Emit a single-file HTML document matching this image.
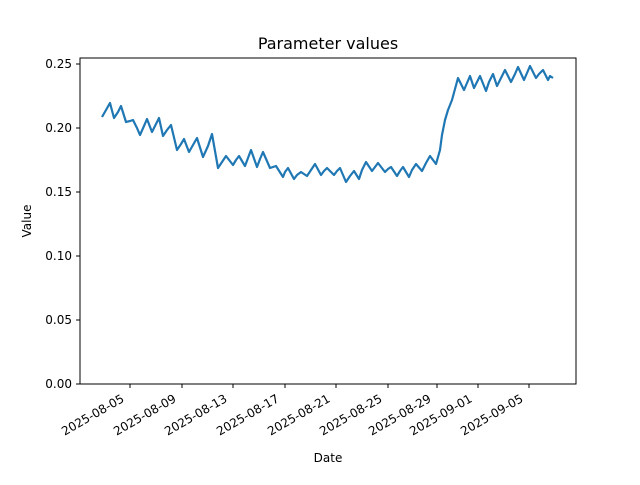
<!DOCTYPE html>
<html><head><meta charset="utf-8"><style>
body{margin:0;background:#fff;}
svg text{font-family:"DejaVu Sans","Liberation Sans",sans-serif;fill:#000;}
</style></head><body>
<svg width="640" height="480" viewBox="0 0 640 480" xmlns="http://www.w3.org/2000/svg">
<rect width="640" height="480" fill="#fff"/>
<text x="328" y="49" font-size="16" text-anchor="middle">Parameter values</text>
<polyline fill="none" stroke="#1f77b4" stroke-width="2.2" stroke-linejoin="round" points="102,117 106,110 110,103 114,118 118,112 121,106 126,122 130,121 133,120 137,128 140,135 144,126 147,119 152,132 156,124 159,118 163,136 167,130 171,125 177,150 181,144 184,139 189,152 193,145 197,138 203,157 208,146 212,134 218,168 222,162 226,156 233,165 236,160 239,156 245,166 248,158 251,150 257,167 260,159 263,152 270,168 273,167 276,166 283,177 285,172 288,168 294,179 297,175 301,172 307,176 311,170 315,164 321,175 324,171 327,168 334,175 337,171 340,168 346,182 350,176 354,171 359,179 362,170 366,162 372,171 375,167 378,163 385,172 388,169 391,167 397,176 400,171 403,167 409,177 412,170 416,164 422,171 426,163 430,156 436,164 440,150 442,135 445,120 448,110 452,100 455,89 458,78 464,90 467,83 470,76 474,88 477,82 480,76 486,91 489,82 493,74 497,86 501,78 505,70 511,82 515,74 518,67 524,80 527,73 530,66 536,78 539,74 543,70 548,80 550,76 553,78"/>
<rect x="80" y="58" width="496" height="326" fill="none" stroke="#000" stroke-width="1"/>
<g stroke="#000" stroke-width="1">
<line x1="76" y1="384" x2="80" y2="384"/><line x1="76" y1="320" x2="80" y2="320"/><line x1="76" y1="256" x2="80" y2="256"/><line x1="76" y1="192" x2="80" y2="192"/><line x1="76" y1="128" x2="80" y2="128"/><line x1="76" y1="64" x2="80" y2="64"/>
<line x1="130" y1="384" x2="130" y2="388"/><line x1="182" y1="384" x2="182" y2="388"/><line x1="233" y1="384" x2="233" y2="388"/><line x1="285" y1="384" x2="285" y2="388"/><line x1="336" y1="384" x2="336" y2="388"/><line x1="388" y1="384" x2="388" y2="388"/><line x1="437" y1="384" x2="437" y2="388"/><line x1="478" y1="384" x2="478" y2="388"/><line x1="529" y1="384" x2="529" y2="388"/>
</g>
<g font-size="12" text-anchor="end">
<text x="72" y="388">0.00</text><text x="72" y="324">0.05</text><text x="72" y="260">0.10</text><text x="72" y="196">0.15</text><text x="72" y="132">0.20</text><text x="72" y="68">0.25</text>
</g>
<g font-size="12" text-anchor="end">
<text transform="translate(125,401) rotate(-30)">2025-08-05</text>
<text transform="translate(177,401) rotate(-30)">2025-08-09</text>
<text transform="translate(228,401) rotate(-30)">2025-08-13</text>
<text transform="translate(280,401) rotate(-30)">2025-08-17</text>
<text transform="translate(331,401) rotate(-30)">2025-08-21</text>
<text transform="translate(383,401) rotate(-30)">2025-08-25</text>
<text transform="translate(432,401) rotate(-30)">2025-08-29</text>
<text transform="translate(473,401) rotate(-30)">2025-09-01</text>
<text transform="translate(524,401) rotate(-30)">2025-09-05</text>
</g>
<text x="328" y="462" font-size="12" text-anchor="middle">Date</text>
<text transform="translate(31,221) rotate(-90)" font-size="12" text-anchor="middle">Value</text>
</svg>
</body></html>
